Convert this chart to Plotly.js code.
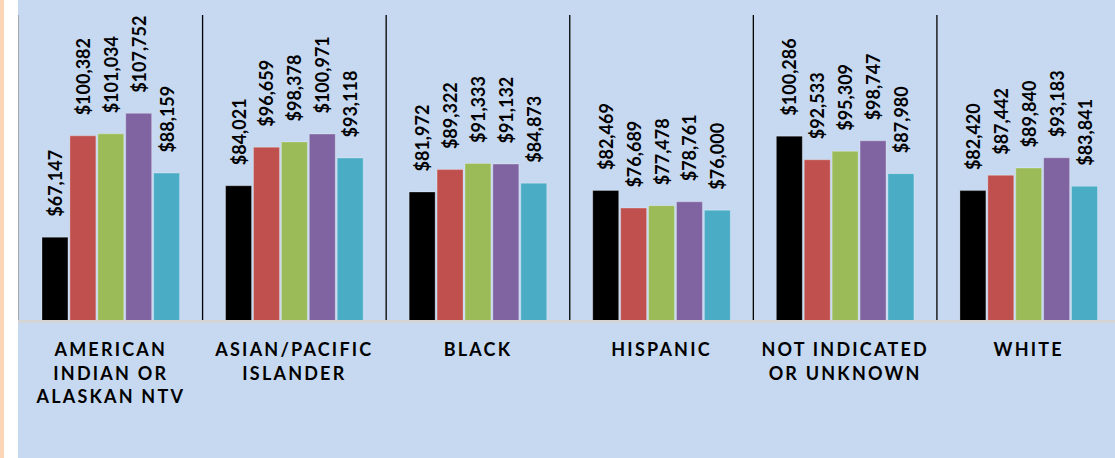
<!DOCTYPE html>
<html>
<head>
<meta charset="utf-8">
<script src="https://cdn.plot.ly/plotly-3.0.1.min.js"></script>
<style>
  html, body { margin: 0; padding: 0; background: #ffffff; width: 1115px; height: 458px; overflow: hidden; }
  #strip { position: absolute; left: 0; top: 0; width: 4px; height: 458px; background: #FBD5B5; }
  #chart { position: absolute; left: 18px; top: 0; width: 1097px; height: 458px; }
  .xtick text { letter-spacing: 2.2px; }
</style>
</head>
<body>
<div id="strip"></div>
<div id="chart"></div>
<script>
const categories = [
  "AMERICAN<br>INDIAN OR<br>ALASKAN NTV",
  "ASIAN/PACIFIC<br>ISLANDER",
  "BLACK",
  "HISPANIC",
  "NOT INDICATED<br>OR UNKNOWN",
  "WHITE"
];
const seriesNames = ["Series 1", "Series 2", "Series 3", "Series 4", "Series 5"];
const series1 = [67147, 84021, 81972, 82469, 100286, 82420];
const series2 = [100382, 96659, 89322, 76689, 92533, 87442];
const series3 = [101034, 98378, 91333, 77478, 95309, 89840];
const series4 = [107752, 100971, 91132, 78761, 98747, 93183];
const series5 = [88159, 93118, 84873, 76000, 87980, 83841];
const seriesValues = [series1, series2, series3, series4, series5];
const colors = ["#000000", "#C0504D", "#9BBB59", "#8064A2", "#4BACC6"];

const pad = "\u00a0\u00a0\u00a0\u00a0";
const traces = seriesValues.map((vals, i) => ({
  type: "bar",
  name: seriesNames[i],
  x: categories,
  y: vals,
  marker: { color: colors[i], line: { color: "rgba(255,255,255,0.35)", width: 0.8 } },
  texttemplate: pad + "$%{y:,.0f}",
  textposition: "outside",
  textangle: -90,
  constraintext: "none",
  cliponaxis: false,
  textfont: { family: "Lato, 'Open Sans', sans-serif", size: 18, weight: "bold", color: "#000000" },
  hoverinfo: "skip"
}));

const shapes = [];
for (let k = 0; k < categories.length - 1; k++) {
  shapes.push({
    type: "line", xref: "x", yref: "paper",
    x0: k + 0.5, x1: k + 0.5, y0: 0, y1: 1,
    line: { color: "#000000", width: 1.3 }
  });
}

const layout = {
  width: 1097, height: 458,
  margin: { l: 1, r: 0, t: 15, b: 138 },
  paper_bgcolor: "#C6D9F1",
  plot_bgcolor: "#C6D9F1",
  showlegend: false,
  barmode: "group",
  bargap: 0.24,
  bargroupgap: 0.07,
  xaxis: {
    type: "category",
    range: [-0.5, 5.47],
    showgrid: false,
    zeroline: false,
    showline: true,
    linecolor: "#D4D4D4",
    linewidth: 2.5,
    ticks: "",
    ticklabelstandoff: 12,
    tickfont: { family: "Lato, 'Open Sans', sans-serif", size: 18, weight: "bold", color: "#000000" },
    fixedrange: true
  },
  yaxis: {
    range: [40000, 140000],
    showgrid: false,
    zeroline: false,
    showline: true,
    linecolor: "#A6A6A6",
    linewidth: 1.5,
    showticklabels: false,
    ticks: "",
    fixedrange: true
  },
  shapes: shapes
};

Plotly.newPlot("chart", traces, layout, { displayModeBar: false, staticPlot: true });
</script>
</body>
</html>
